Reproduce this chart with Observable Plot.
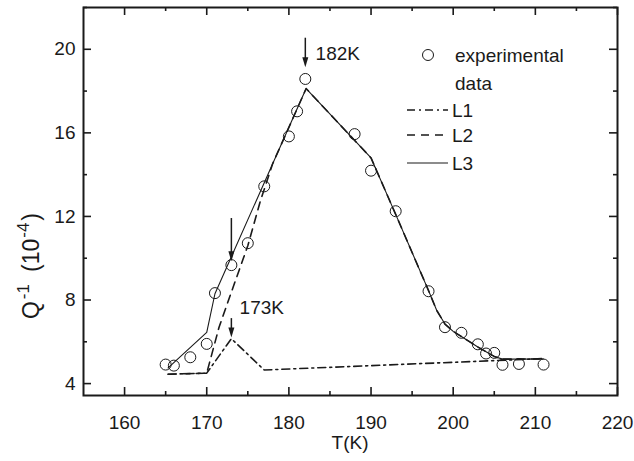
<!DOCTYPE html>
<html><head><meta charset="utf-8">
<script src="https://cdn.jsdelivr.net/npm/d3@7"></script>
<script src="https://cdn.jsdelivr.net/npm/@observablehq/plot@0.6"></script>
<style>html,body{margin:0;padding:0;background:#fff}svg{display:block}</style>
</head><body><div id="chart"></div>
<script>
// experimental data
const expT = [165, 166, 168, 170, 171, 173, 175, 177, 180, 181, 182, 188, 190, 193, 197, 199, 201, 203, 204, 205, 206, 208, 211];
const expQ = [4.91, 4.86, 5.26, 5.90, 8.33, 9.67, 10.72, 13.44, 15.83, 17.03, 18.58, 15.94, 14.19, 12.25, 8.42, 6.70, 6.43, 5.88, 5.44, 5.47, 4.90, 4.94, 4.91];
// L1 (dash-dot)
const l1T = [165.3, 170, 173, 177, 205, 211];
const l1Q = [4.45, 4.5, 6.15, 4.65, 5.1, 5.2];
// L2 (dashed)
const l2T = [165.3, 170, 171.5, 173.2, 175, 176.5, 178, 182.1, 190, 193, 197, 198, 199, 200, 201, 203, 205, 206, 211];
const l2Q = [4.45, 4.5, 6.7, 8.6, 10.6, 12.7, 14.5, 18.12, 14.8, 12.1, 8.45, 7.5, 6.85, 6.5, 6.25, 5.75, 5.3, 5.17, 5.18];
// L3 (solid)
const l3T = [165.3, 170, 171, 178, 182.1, 190, 193, 197, 198, 199, 200, 201, 203, 205, 206, 211];
const l3Q = [4.75, 6.45, 8.3, 14.5, 18.12, 14.8, 12.1, 8.45, 7.5, 6.85, 6.5, 6.25, 5.75, 5.3, 5.17, 5.18];
// axes
const xMajor = [160, 170, 180, 190, 200, 210, 220];
const xMinor = [165, 175, 185, 195, 205, 215];
const yMajor = [4, 8, 12, 16, 20];
const yMinor = [6, 10, 14, 18, 22];
// annotations
const arrowT = [182, 173, 173];
const arrowFrom = [20.53, 11.9, 7.11];
const arrowTo = [19.14, 9.85, 6.2];
const labelText = ["182K", "173K"];
const labelT = [183.25, 174.0];
const labelQ = [19.8, 7.6];

const font = "'Liberation Sans', Arial, sans-serif";
const ink = "#1a1a1a";
const W = 634, H = 461, mL = 83, mR = 17, mT = 7, mB = 66;
const pw = W - mL - mR, ph = H - mT - mB;

const exp = expT.map((t, i) => ({T: t, Q: expQ[i]}));
const l1 = l1T.map((t, i) => ({T: t, Q: l1Q[i]}));
const l2 = l2T.map((t, i) => ({T: t, Q: l2Q[i]}));
const l3 = l3T.map((t, i) => ({T: t, Q: l3Q[i]}));
const arrows = arrowT.map((t, i) => ({T: t, a: arrowFrom[i], b: arrowTo[i]}));
const labels = labelText.map((s, i) => ({s, T: labelT[i], Q: labelQ[i]}));

const headDown = {draw(ctx) { ctx.moveTo(0, 0); ctx.lineTo(-3, -10); ctx.lineTo(3, -10); ctx.closePath(); }};

const plot = Plot.plot({
  width: W, height: H,
  marginLeft: mL, marginRight: mR, marginTop: mT, marginBottom: mB,
  style: {fontFamily: font, fontSize: "19px", color: ink, background: "#fff"},
  x: {domain: [155, 220]},
  y: {domain: [3.43, 22]},
  marks: [
    Plot.tickX(xMajor, {x: d => d, insetTop: ph - 8, stroke: ink, strokeWidth: 1.6}),
    Plot.tickX(xMinor, {x: d => d, insetTop: ph - 4, stroke: ink, strokeWidth: 1.6}),
    Plot.tickX(xMajor, {x: d => d, insetBottom: ph - 8, stroke: ink, strokeWidth: 1.6}),
    Plot.tickX(xMinor, {x: d => d, insetBottom: ph - 4, stroke: ink, strokeWidth: 1.6}),
    Plot.tickY(yMajor, {y: d => d, insetRight: pw - 8, stroke: ink, strokeWidth: 1.6}),
    Plot.tickY(yMinor, {y: d => d, insetRight: pw - 4, stroke: ink, strokeWidth: 1.6}),
    Plot.tickY(yMajor, {y: d => d, insetLeft: pw - 8, stroke: ink, strokeWidth: 1.6}),
    Plot.tickY(yMinor, {y: d => d, insetLeft: pw - 4, stroke: ink, strokeWidth: 1.6}),
    Plot.axisX(xMajor, {tickSize: 0, tickPadding: 20, label: null, fontSize: 19}),
    Plot.axisY(yMajor, {tickSize: 0, tickPadding: 8, label: null, fontSize: 19}),
    Plot.frame({stroke: ink, strokeWidth: 2}),
    Plot.line(l1, {x: "T", y: "Q", stroke: ink, strokeWidth: 1.6, strokeDasharray: "8,4,2,4"}),
    Plot.line(l3, {x: "T", y: "Q", stroke: ink, strokeWidth: 1.1}),
    Plot.line(l2, {x: "T", y: "Q", stroke: ink, strokeWidth: 1.6, strokeDasharray: "8,6"}),
    Plot.dot(exp, {x: "T", y: "Q", r: 5.5, stroke: ink, strokeWidth: 1, fill: "none"}),
    Plot.ruleX(arrows, {x: "T", y1: "a", y2: "b", stroke: ink, strokeWidth: 1.5, insetBottom: 6}),
    Plot.dot(arrows, {x: "T", y: "b", symbol: headDown, r: 4, fill: ink, stroke: null}),
    Plot.text(labels, {x: "T", y: "Q", text: "s", textAnchor: "start", fill: ink, fontSize: 19})
  ]
});
document.getElementById("chart").appendChild(plot);

const svg = d3.select(plot);
svg.append("text").attr("x", mL + pw / 2).attr("y", 442).attr("dy", "0.35em")
  .attr("text-anchor", "middle").attr("font-family", font).attr("font-size", 19).attr("fill", ink)
  .text("T(K)");
// y label with superscripts
const yl = svg.append("text").attr("transform", "translate(39,266) rotate(-90)")
  .attr("text-anchor", "middle").attr("font-family", font).attr("font-size", 23).attr("fill", ink);
yl.append("tspan").text("Q");
yl.append("tspan").attr("dx", 2).attr("dy", -10).attr("font-size", 17).text("-1");
yl.append("tspan").attr("dx", 12).attr("dy", 10).text("(10");
yl.append("tspan").attr("dx", 1).attr("dy", -10).attr("font-size", 17).text("-4");
yl.append("tspan").attr("dx", 2).attr("dy", 10).text(")");
// legend
const lg = svg.append("g").attr("font-family", font).attr("font-size", 19).attr("fill", ink).attr("text-anchor", "start");
lg.append("circle").attr("cx", 428).attr("cy", 55).attr("r", 5.5).attr("fill", "none").attr("stroke", ink);
lg.append("text").attr("x", 455).attr("y", 55).attr("dy", "0.35em").text("experimental");
lg.append("text").attr("x", 455).attr("y", 83).attr("dy", "0.35em").text("data");
const legLines = [["L1", 110, "8,4,2,4", 1.6], ["L2", 135, "8,6", 1.6], ["L3", 163, null, 1.1]];
legLines.forEach(([name, y, dash, sw]) => {
  const ln = lg.append("line").attr("x1", 407).attr("x2", 448).attr("y1", y).attr("y2", y)
    .attr("stroke", ink).attr("stroke-width", sw);
  if (dash) ln.attr("stroke-dasharray", dash);
  lg.append("text").attr("x", 452).attr("y", y).attr("dy", "0.35em").text(name);
});
</script></body></html>
